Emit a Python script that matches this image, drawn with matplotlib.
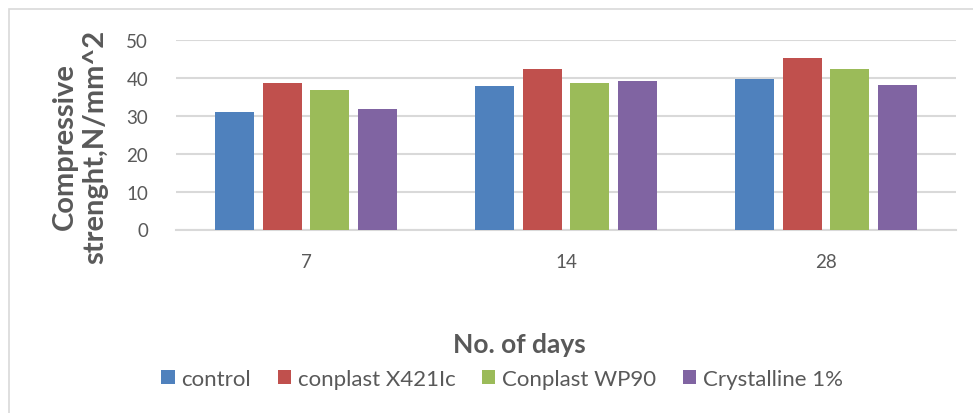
import matplotlib
matplotlib.use('Agg')
import matplotlib.pyplot as plt
import numpy as np
from matplotlib.patches import Rectangle

# du lieu doc tu hinh
days = ['7', '14', '28']
series_names = ['control', 'conplast X421Ic', 'Conplast WP90', 'Crystalline 1%']
control = [31.0, 37.8, 39.6]
conplast_x421 = [38.6, 42.3, 45.3]
conplast_wp90 = [36.8, 38.6, 42.3]
crystalline = [31.7, 39.2, 38.1]
colors = ['#4F81BD', '#C0504D', '#9BBB59', '#8064A2']

plt.rcParams['font.family'] = ['Lato', 'DejaVu Sans']
text_color = '#595959'

W, H = 973, 414
fig = plt.figure(figsize=(W / 100, H / 100), dpi=100)
ax = fig.add_axes([176 / W, 1 - 230.5 / H, (956 - 176) / W, (230.5 - 41) / H])

x = np.arange(len(days))
width = 0.149
pitch = 0.183
all_series = [control, conplast_x421, conplast_wp90, crystalline]
for i, (vals, name, c) in enumerate(zip(all_series, series_names, colors)):
    ax.bar(x + (i - 1.5) * pitch, vals, width, color=c, label=name, zorder=3)

ax.set_xlim(-0.5, 2.5)
ax.set_ylim(0, 50)
ax.set_yticks([0, 10, 20, 30, 40, 50])
ax.set_xticks(x)
ax.set_xticklabels(days)
ax.yaxis.grid(True, color='#D9D9D9', linewidth=1.5, zorder=0)
for s in ['top', 'right', 'left']:
    ax.spines[s].set_visible(False)
ax.spines['bottom'].set_color('#D9D9D9')
ax.spines['bottom'].set_linewidth(1.5)
ax.tick_params(axis='both', length=0, labelsize=13.5, colors=text_color)
ax.tick_params(axis='y', pad=20)
ax.tick_params(axis='x', pad=17)

# nhan truc
fig.text(80 / W, 1 - 147 / H, 'Compressive\nstrenght,N/mm^2', rotation=90,
         ha='center', va='center', fontsize=21, fontweight='bold',
         color=text_color, linespacing=1.2)
fig.text(519.5 / W, 1 - 345 / H, 'No. of days', ha='center', va='center',
         fontsize=19, fontweight='bold', color=text_color)

leg = fig.legend(loc='center', bbox_to_anchor=(502 / W, 1 - 380 / H), ncol=4,
                 frameon=False, fontsize=16, handlelength=0.6, handleheight=0.6,
                 handletextpad=0.3, columnspacing=1.2)
for t in leg.get_texts():
    t.set_color(text_color)

# vien khung
fig.patches.append(Rectangle((8.5 / W, -0.1), 1.2, 1 - 10 / H + 0.1,
                             transform=fig.transFigure, fill=False,
                             edgecolor='#D9D9D9', linewidth=1.2))

fig.savefig('out.png', dpi=100)
